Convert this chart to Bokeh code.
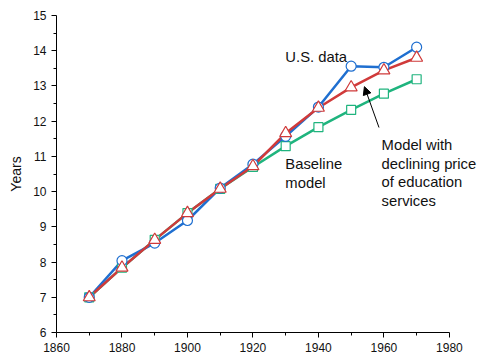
from bokeh.plotting import figure
from bokeh.models import Range1d, FixedTicker, Arrow, NormalHead, Label
from bokeh.embed import file_html
from bokeh.resources import INLINE

years = [1870, 1880, 1890, 1900, 1910, 1920, 1930, 1940, 1950, 1960, 1970]
us_data = [7.0, 8.04, 8.54, 9.18, 10.1, 10.78, 11.57, 12.4, 13.56, 13.53, 14.1]
declining_price = [7.0, 7.84, 8.63, 9.39, 10.08, 10.72, 11.66, 12.38, 12.96, 13.44, 13.8]
baseline = [7.0, 7.84, 8.63, 9.39, 10.08, 10.7, 11.29, 11.83, 12.32, 12.78, 13.19]

x_ticks = [1860, 1880, 1900, 1920, 1940, 1960, 1980]
x_minor = [1870, 1890, 1910, 1930, 1950, 1970]
y_ticks = [6, 7, 8, 9, 10, 11, 12, 13, 14, 15]
y_minor = [6.5, 7.5, 8.5, 9.5, 10.5, 11.5, 12.5, 13.5, 14.5]

BLUE = "#1f6fd0"
RED = "#d03a3a"
GREEN = "#1fb47e"
FONT = "Liberation Sans"

# The frame runs to the right edge so that the annotation text is not clipped;
# the visible axis stops at 1980 through its bounds.
p = figure(width=479, height=360, output_backend="svg", toolbar_location=None,
           x_range=Range1d(1860, 1989.2), y_range=Range1d(6, 15),
           min_border_left=56, min_border_right=0, min_border_top=15, min_border_bottom=28)
p.outline_line_color = None
p.xgrid.visible = False
p.ygrid.visible = False

for ax, maj, mnr in ((p.xaxis, x_ticks, x_minor), (p.yaxis, y_ticks, y_minor)):
    ax.ticker = FixedTicker(ticks=maj, minor_ticks=mnr)
    ax.axis_line_color = "black"
    ax.axis_line_width = 1
    ax.major_tick_line_color = "black"
    ax.minor_tick_line_color = "black"
    ax.major_tick_out = 5
    ax.major_tick_in = 0
    ax.minor_tick_out = 3
    ax.minor_tick_in = 0
    ax.major_label_text_font = FONT
    ax.major_label_text_font_size = "12px"
    ax.major_label_text_color = "#111111"
p.xaxis.bounds = (1860, 1980)

p.yaxis.axis_label = "Years"
p.yaxis.axis_label_text_font = FONT
p.yaxis.axis_label_text_font_size = "14px"
p.yaxis.axis_label_text_font_style = "normal"
p.yaxis.axis_label_text_color = "#111111"
p.yaxis.axis_label_standoff = 6

p.line(years, baseline, line_color=GREEN, line_width=2.5)
p.line(years, us_data, line_color=BLUE, line_width=2.5)
p.line(years, declining_price, line_color=RED, line_width=2.5)

p.scatter(years, baseline, marker="square", size=9, fill_color="white",
          line_color=GREEN, line_width=1.2)
p.scatter(years, us_data, marker="circle", size=10, fill_color="white",
          line_color=BLUE, line_width=1.2)
p.scatter(years, declining_price, marker="triangle", size=12, fill_color="white",
          line_color=RED, line_width=1.2)

label_text = ["U.S. data", "Baseline", "model",
              "Model with", "declining price", "of education", "services"]
label_x = [1929.9, 1929.9, 1929.9, 1959.3, 1959.3, 1959.3, 1959.3]
label_y = [13.81, 10.77, 10.24, 11.31, 10.78, 10.26, 9.74]
for t, lx, ly in zip(label_text, label_x, label_y):
    p.add_layout(Label(x=lx, y=ly, text=t, text_font=FONT, text_font_size="14.8px",
                       text_color="#111111", text_baseline="alphabetic",
                       text_align="left"))

p.add_layout(Arrow(end=NormalHead(size=8, fill_color="black", line_color="black"),
                   x_start=1958.5, y_start=11.82, x_end=1954.05, y_end=12.98,
                   line_color="black", line_width=1))

open("out.html", "w").write(file_html(p, INLINE))
